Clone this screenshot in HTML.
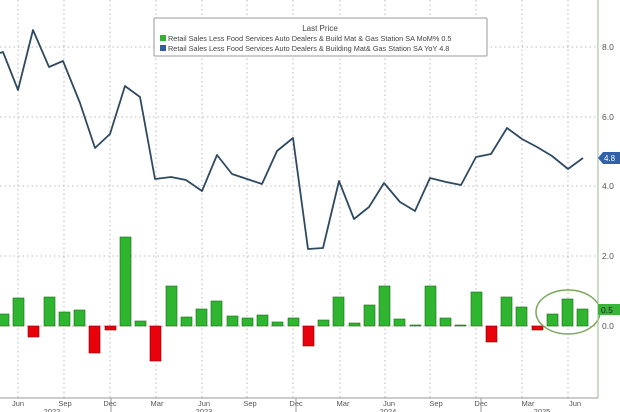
<!DOCTYPE html>
<html><head><meta charset="utf-8"><style>
body{margin:0;background:#fff;}
svg{display:block;font-family:"Liberation Sans",sans-serif;}
</style></head><body>
<svg width="620" height="412" viewBox="0 0 620 412" xmlns="http://www.w3.org/2000/svg">
<rect width="620" height="412" fill="#fff"/>
<g stroke="#bbb" stroke-width="1" stroke-dasharray="1.5,3">
<line x1="0" y1="47" x2="598" y2="47"/><line x1="0" y1="117" x2="598" y2="117"/>
<line x1="0" y1="186" x2="598" y2="186"/><line x1="0" y1="256" x2="598" y2="256"/>
<line x1="0" y1="326" x2="598" y2="326"/>
<line x1="18" y1="0" x2="18" y2="398"/><line x1="64" y1="0" x2="64" y2="398"/>
<line x1="110" y1="0" x2="110" y2="398"/><line x1="156" y1="0" x2="156" y2="398"/>
<line x1="202" y1="0" x2="202" y2="398"/><line x1="247" y1="0" x2="247" y2="398"/>
<line x1="293" y1="0" x2="293" y2="398"/><line x1="340" y1="0" x2="340" y2="398"/>
<line x1="385" y1="0" x2="385" y2="398"/><line x1="430" y1="0" x2="430" y2="398"/>
<line x1="476" y1="0" x2="476" y2="398"/><line x1="522" y1="0" x2="522" y2="398"/>
<line x1="568" y1="0" x2="568" y2="398"/>
</g>
<g stroke-width="0.6" stroke="#1a6a1a">
<rect x="-2" y="314" width="11" height="12" fill="#2fb52f"/>
<rect x="13" y="298" width="11" height="28" fill="#2fb52f"/>
<rect x="28" y="326" width="11" height="11" fill="#e8000b" stroke="#800"/>
<rect x="44" y="297" width="11" height="29" fill="#2fb52f"/>
<rect x="59" y="312" width="11" height="14" fill="#2fb52f"/>
<rect x="74" y="310" width="11" height="16" fill="#2fb52f"/>
<rect x="89" y="326" width="11" height="27" fill="#e8000b" stroke="#800"/>
<rect x="105" y="326" width="11" height="4" fill="#e8000b" stroke="#800"/>
<rect x="120" y="237" width="11" height="89" fill="#2fb52f"/>
<rect x="135" y="321" width="11" height="5" fill="#2fb52f"/>
<rect x="150" y="326" width="11" height="35" fill="#e8000b" stroke="#800"/>
<rect x="166" y="286" width="11" height="40" fill="#2fb52f"/>
<rect x="181" y="317" width="11" height="9" fill="#2fb52f"/>
<rect x="196" y="309" width="11" height="17" fill="#2fb52f"/>
<rect x="211" y="301" width="11" height="25" fill="#2fb52f"/>
<rect x="227" y="316" width="11" height="10" fill="#2fb52f"/>
<rect x="242" y="318" width="11" height="8" fill="#2fb52f"/>
<rect x="257" y="315" width="11" height="11" fill="#2fb52f"/>
<rect x="272" y="322" width="11" height="4" fill="#2fb52f"/>
<rect x="288" y="318" width="11" height="8" fill="#2fb52f"/>
<rect x="303" y="326" width="11" height="20" fill="#e8000b" stroke="#800"/>
<rect x="318" y="320" width="11" height="6" fill="#2fb52f"/>
<rect x="333" y="297" width="11" height="29" fill="#2fb52f"/>
<rect x="349" y="323" width="11" height="3" fill="#2fb52f"/>
<rect x="364" y="305" width="11" height="21" fill="#2fb52f"/>
<rect x="379" y="286" width="11" height="40" fill="#2fb52f"/>
<rect x="394" y="319" width="11" height="7" fill="#2fb52f"/>
<rect x="410" y="325" width="11" height="1" fill="#2fb52f"/>
<rect x="425" y="286" width="11" height="40" fill="#2fb52f"/>
<rect x="440" y="318" width="11" height="8" fill="#2fb52f"/>
<rect x="455" y="325" width="11" height="1" fill="#2fb52f"/>
<rect x="471" y="292" width="11" height="34" fill="#2fb52f"/>
<rect x="486" y="326" width="11" height="16" fill="#e8000b" stroke="#800"/>
<rect x="501" y="297" width="11" height="29" fill="#2fb52f"/>
<rect x="516" y="307" width="11" height="19" fill="#2fb52f"/>
<rect x="532" y="326" width="11" height="4" fill="#e8000b" stroke="#800"/>
<rect x="547" y="314" width="11" height="12" fill="#2fb52f"/>
<rect x="562" y="299" width="11" height="27" fill="#2fb52f"/>
<rect x="577" y="309" width="11" height="17" fill="#2fb52f"/>
</g>
<polyline fill="none" stroke="#2e4a63" stroke-width="1.8" stroke-linejoin="round" points="0,53 3,52 18,90 33,30 49,67 63,61 80,103 95,148 110,134 125,86 140,97 155,179 171,177 186,180 202,191 217,155 232,174 247,179 262,184 277,151 293,138 308,249 323,248 339,181 354,219 369,207 384,183 400,202 415,211 430,178 446,182 461,185 476,157 491,154 507,128 522,139 537,147 552,156 568,169 583,158"/>
<ellipse cx="568" cy="312" rx="32" ry="22" fill="none" stroke="#7aa75a" stroke-width="1.5"/>
<line x1="598" y1="0" x2="598" y2="398" stroke="#a9c4a0" stroke-width="1.2"/>
<line x1="0" y1="398" x2="598" y2="398" stroke="#999" stroke-width="1"/>
<g font-size="8.5" fill="#555">
<text x="602" y="50">8.0</text><text x="602" y="120">6.0</text>
<text x="602" y="189">4.0</text><text x="602" y="259">2.0</text>
<text x="602" y="329">0.0</text>
</g>
<path d="M598,158 L603,152 L620,152 L620,164 L603,164 Z" fill="#2f62a8"/>
<text x="604" y="161" font-size="8" fill="#fff">4.8</text>
<rect x="598" y="304" width="22" height="11" fill="#39b539"/>
<text x="601" y="313" font-size="8.5" fill="#222">0.5</text>
<g font-size="7.5" fill="#555" text-anchor="middle">
<text x="18" y="406">Jun</text><text x="65" y="406">Sep</text><text x="110" y="406">Dec</text>
<text x="157" y="406">Mar</text><text x="204" y="406">Jun</text><text x="250" y="406">Sep</text>
<text x="296" y="406">Dec</text><text x="343" y="406">Mar</text><text x="389" y="406">Jun</text>
<text x="436" y="406">Sep</text><text x="481" y="406">Dec</text><text x="528" y="406">Mar</text>
<text x="575" y="406">Jun</text>
<text x="52" y="414">2022</text><text x="204" y="414">2023</text><text x="388" y="414">2024</text><text x="542" y="414">2025</text>
</g>
<g stroke="#999"><line x1="111" y1="398" x2="111" y2="412"/><line x1="296" y1="398" x2="296" y2="412"/><line x1="481" y1="398" x2="481" y2="412"/></g>
<rect x="154" y="18" width="333" height="38" fill="#fff" stroke="#999" stroke-width="1" rx="1"/>
<text x="320" y="31" font-size="8" fill="#444" text-anchor="middle">Last Price</text>
<rect x="160" y="35" width="6" height="6" fill="#2fb52f"/>
<rect x="160" y="45" width="6" height="6" fill="#2f5f9e"/>
<g font-size="7.3" fill="#444">
<text x="168" y="41">Retail Sales Less Food Services Auto Dealers &amp; Build Mat &amp; Gas Station SA MoM% 0.5</text>
<text x="168" y="51">Retail Sales Less Food Services Auto Dealers &amp; Building Mat&amp; Gas Station SA YoY 4.8</text>
</g>
</svg>
</body></html>
